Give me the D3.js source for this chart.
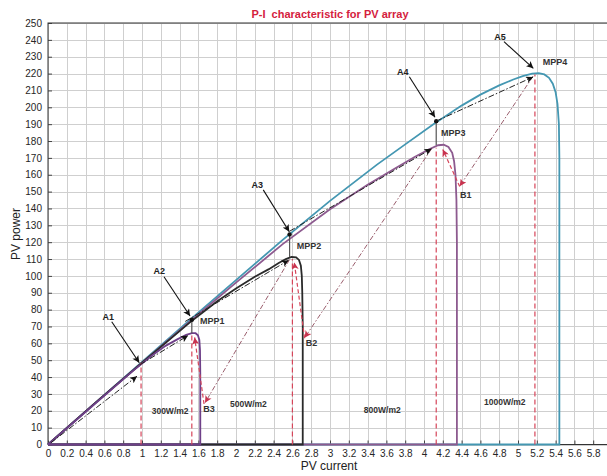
<!DOCTYPE html>
<html><head><meta charset="utf-8">
<script src="https://cdn.jsdelivr.net/npm/d3@7"></script>
<style>html,body{margin:0;padding:0;background:#fff;} svg{display:block;font-family:"Liberation Sans",Arial,sans-serif;}</style>
</head><body><svg id="c" width="607" height="476"></svg>
<script>
// ---------- data ----------
const xTickValues = [0,0.2,0.4,0.6,0.8,1,1.2,1.4,1.6,1.8,2,2.2,2.4,2.6,2.8,3,3.2,3.4,3.6,3.8,4,4.2,4.4,4.6,4.8,5,5.2,5.4,5.6,5.8,6];
const xTickLabels = ["0","0.2","0.4","0.6","0.8","1","1.2","1.4","1.6","1.8","2","2.2","2.4","2.6","2.8","3","3.2","3.4","3.6","3.8","4","4.2","4.4","4.6","4.8","5","5.2","5.4","5.6","5.8",""];
const yTickValues = [0,10,20,30,40,50,60,70,80,90,100,110,120,130,140,150,160,170,180,190,200,210,220,230,240,250];

const irradianceLabels = ["300W/m2","500W/m2","800W/m2","1000W/m2"];
const irrLabelI = [1.103, 1.936, 3.36, 4.638];
const irrLabelP = [19.9, 24, 20.5, 24.9];

// P-I curves (current, power)
const current1000 = [0,0.5,1,1.5,2,2.5,3,3.5,3.8,4.1,4.4,4.6,4.8,4.95,5.05,5.15,5.22,5.28,5.33,5.37,5.40,5.42,5.435,5.44,5.44,0];
const power1000   = [0,24.5,49,73.5,97.5,121.5,144.5,166,178,190,201,207.5,213,216.5,218.5,220,220.2,219.5,217.5,214,209,202,190,170,0,0];
const current800  = [0,0.5,1,1.5,2,2.5,3,3.4,3.7,3.9,4.05,4.15,4.21,4.26,4.30,4.32,4.335,4.345,4.35,4.35,0];
const power800    = [0,24.5,48.5,72.5,96,119,139.5,154,164,170.5,175,177.5,177.8,176.5,173,168,160,145,120,0,0];
const current500  = [0,0.5,1,1.5,1.8,2.0,2.2,2.35,2.45,2.53,2.59,2.64,2.67,2.69,2.70,2.705,2.71,2.71,0];
const power500    = [0,24.5,48.5,72,85,92.5,99.5,104,107.5,110,111.2,111,109.5,106,100,90,70,0,0];
const current300  = [0,0.5,0.9,1.1,1.25,1.38,1.47,1.53,1.57,1.595,1.61,1.617,1.62,1.62,0];
const power300    = [0,24.2,43.5,52.5,58.5,62.5,65,66,66,64.8,62,56,42,0,0];

// A-labels with pointer arrows
const aLabels = ["A1","A2","A3","A4","A5"];
const aTextI = [0.641,1.184,2.227,3.773,4.809];
const aTextP = [75.8,103.1,153.9,220.8,241.5];
const aTailI = [0.678,1.234,2.29,3.844,4.851];
const aTailP = [72.8,99.5,151,218.1,238.9];
const aTipI  = [0.971,1.511,2.567,4.117,5.163];
const aTipP  = [48.5,76.2,126.2,194.1,223.1];

// MPP points on upper curve with connectors down to peaks
const mppDotI = [1.53,2.57,4.13];
const mppDotP = [74,124.6,191.8];
const mppPeakP = [66,111.2,177.6];

const mppLabels = ["MPP1","MPP2","MPP3","MPP4"];
const mppLabelI = [1.617,2.646,4.181,5.263];
const mppLabelP = [73.4,117.7,184.6,227];

const bLabels = ["B1","B2","B3"];
const bLabelI = [4.383,2.741,1.652];
const bLabelP = [148,60,20.9];

// black dash-dot tracking arrows
const trackFromI = [0.03,0.98,1.46,2.57,4.13];
const trackFromP = [1,47.4,73,126.5,191.8];
const trackToI   = [0.947,1.49,2.56,4.08,5.16];
const trackToP   = [40.5,64.6,109.3,175.4,218];

// long dash-dot lines ending at B points
const bFromI = [5.16,4.08,2.57];
const bFromP = [218.4,175.4,109.7];
const bToI   = [4.38,2.73,1.67];
const bToP   = [153.2,63.3,24.7];

// short red dashed lines from B points up to peaks
const upFromI = [4.38,2.73,1.66];
const upFromP = [153,63,24];
const upToI   = [4.2,2.62,1.56];
const upToP   = [175,108,63.5];

// red dashed vertical lines from axis
const vLineI = [0.99,1.53,2.6,4.13,5.18];
const vLineP = [48.5,65.3,110,176,219.5];

// ---------- drawing ----------
const svg = d3.select("#c");
const x = d3.scaleLinear().domain([0,6]).range([48,612]);
const y = d3.scaleLinear().domain([0,250]).range([444.5,23]);

const defs = svg.append("defs");
function marker(id, color){
  defs.append("marker").attr("id",id).attr("viewBox","0 0 10 10")
    .attr("refX",10).attr("refY",5).attr("markerWidth",8).attr("markerHeight",7)
    .attr("markerUnits","userSpaceOnUse").attr("orient","auto")
    .append("path").attr("d","M0,0 L10,5 L0,10 L2.5,5 z").attr("fill",color);
}
marker("arrB","#111");
marker("arrR","#c8334f");

svg.append("rect").attr("x",0).attr("y",0).attr("width",607).attr("height",476).attr("fill","#fff");

// grid
const g = svg.append("g");
g.selectAll(".gx").data(xTickValues).join("line")
  .attr("x1",d=>Math.round(x(d))+0.5).attr("x2",d=>Math.round(x(d))+0.5)
  .attr("y1",y(0)).attr("y2",y(250)).attr("stroke","#cfcfcf").attr("stroke-width",1);
g.selectAll(".gy").data(yTickValues).join("line")
  .attr("y1",d=>Math.round(y(d))+0.5).attr("y2",d=>Math.round(y(d))+0.5)
  .attr("x1",x(0)).attr("x2",x(6)).attr("stroke","#cfcfcf").attr("stroke-width",1);

// axes
const ax = svg.append("g").attr("transform",`translate(0,${y(0)})`)
  .call(d3.axisBottom(x).tickValues(xTickValues).tickFormat((d,k)=>xTickLabels[k]).tickSize(-4).tickPadding(5));
const ay = svg.append("g").attr("transform",`translate(${x(0)},0)`)
  .call(d3.axisLeft(y).tickValues(yTickValues).tickFormat(d=>String(d)).tickSize(-4).tickPadding(6));
[ax,ay].forEach(a=>{
  a.select(".domain").remove();
  a.selectAll("line").attr("stroke","#444");
  a.selectAll("text").attr("font-size","10px").attr("fill","#262626").attr("font-family","Liberation Sans, Arial, sans-serif");
});
svg.append("rect").attr("x",x(0)).attr("y",y(250)).attr("width",x(6)-x(0)).attr("height",y(0)-y(250))
  .attr("fill","none").attr("stroke","#333").attr("stroke-width",1);

// curves
const line = d3.line().x(d=>x(d[0])).y(d=>y(d[1]));
const curves = [
  {i:current1000,p:power1000,c:"#4497b2"},
  {i:current800,p:power800,c:"#8d5a8f"},
  {i:current500,p:power500,c:"#2a2a2a"},
  {i:current300,p:power300,c:"#6e3f88"}
];
curves.forEach(cv=>{
  svg.append("path").datum(cv.i.map((v,k)=>[v,cv.p[k]]))
    .attr("d",line).attr("fill","none").attr("stroke",cv.c).attr("stroke-width",1.8);
});

// red dashed vertical lines
svg.selectAll(".vl").data(vLineI).join("line")
  .attr("x1",d=>x(d)).attr("x2",d=>x(d)).attr("y1",y(0)).attr("y2",(d,k)=>y(vLineP[k]))
  .attr("stroke","#d6455a").attr("stroke-width",1.2).attr("stroke-dasharray","5,3");

// MPP connectors & dots
svg.selectAll(".mc").data(mppDotI).join("line")
  .attr("x1",d=>x(d)).attr("x2",d=>x(d)).attr("y1",(d,k)=>y(mppDotP[k])).attr("y2",(d,k)=>y(mppPeakP[k]))
  .attr("stroke","#555").attr("stroke-width",1.2);
svg.selectAll(".md").data(mppDotI).join("circle")
  .attr("cx",d=>x(d)).attr("cy",(d,k)=>y(mppDotP[k])).attr("r",2.2).attr("fill","#111");

// long B dash-dot lines
svg.selectAll(".bl").data(bFromI).join("line")
  .attr("x1",d=>x(d)).attr("y1",(d,k)=>y(bFromP[k]))
  .attr("x2",(d,k)=>x(bToI[k])).attr("y2",(d,k)=>y(bToP[k]))
  .attr("stroke","#9a5d6c").attr("stroke-width",1).attr("stroke-dasharray","5,2,1.5,2")
  .attr("marker-end","url(#arrR)");

// short red dashed B->peak
svg.selectAll(".ul").data(upFromI).join("line")
  .attr("x1",d=>x(d)).attr("y1",(d,k)=>y(upFromP[k]))
  .attr("x2",(d,k)=>x(upToI[k])).attr("y2",(d,k)=>y(upToP[k]))
  .attr("stroke","#d6455a").attr("stroke-width",1.2).attr("stroke-dasharray","4,2.5")
  .attr("marker-end","url(#arrR)");

// black dash-dot tracking arrows
svg.selectAll(".tl").data(trackFromI).join("line")
  .attr("x1",d=>x(d)).attr("y1",(d,k)=>y(trackFromP[k]))
  .attr("x2",(d,k)=>x(trackToI[k])).attr("y2",(d,k)=>y(trackToP[k]))
  .attr("stroke","#222").attr("stroke-width",1).attr("stroke-dasharray","6,2,1.5,2")
  .attr("marker-end","url(#arrB)");

// A pointer arrows
svg.selectAll(".al").data(aTailI).join("line")
  .attr("x1",d=>x(d)).attr("y1",(d,k)=>y(aTailP[k]))
  .attr("x2",(d,k)=>x(aTipI[k])).attr("y2",(d,k)=>y(aTipP[k]))
  .attr("stroke","#111").attr("stroke-width",1.1).attr("marker-end","url(#arrB)");
svg.selectAll(".at").data(aLabels).join("text")
  .attr("x",(d,k)=>x(aTextI[k])).attr("y",(d,k)=>y(aTextP[k])).attr("dy","0.35em")
  .attr("text-anchor","middle").attr("font-size","9px").attr("font-weight","bold").attr("fill","#222").text(d=>d);

// MPP labels
svg.selectAll(".mt").data(mppLabels).join("text")
  .attr("x",(d,k)=>x(mppLabelI[k])).attr("y",(d,k)=>y(mppLabelP[k])).attr("dy","0.35em")
  .attr("font-size","9px").attr("font-weight","bold").attr("fill","#333").text(d=>d);
// B labels
svg.selectAll(".bt").data(bLabels).join("text")
  .attr("x",(d,k)=>x(bLabelI[k])).attr("y",(d,k)=>y(bLabelP[k])).attr("dy","0.35em")
  .attr("font-size","9px").attr("font-weight","bold").attr("fill","#333").text(d=>d);
// irradiance labels
svg.selectAll(".it").data(irradianceLabels).join("text")
  .attr("x",(d,k)=>x(irrLabelI[k])).attr("y",(d,k)=>y(irrLabelP[k])).attr("dy","0.35em")
  .attr("font-size","8.5px").attr("font-weight","bold").attr("fill","#333").text(d=>d);

// title & axis labels
svg.append("text").attr("x",330).attr("y",18).attr("text-anchor","middle")
  .attr("font-size","11px").attr("font-weight","bold").attr("fill","#d4213d")
  .attr("xml:space","preserve").text("P-I  characteristic for PV array");
svg.append("text").attr("x",329).attr("y",470).attr("text-anchor","middle")
  .attr("font-size","12px").attr("fill","#222").text("PV current");
svg.append("text").attr("transform","translate(20,234) rotate(-90)").attr("text-anchor","middle")
  .attr("font-size","12px").attr("fill","#222").text("PV power");
</script></body></html>
